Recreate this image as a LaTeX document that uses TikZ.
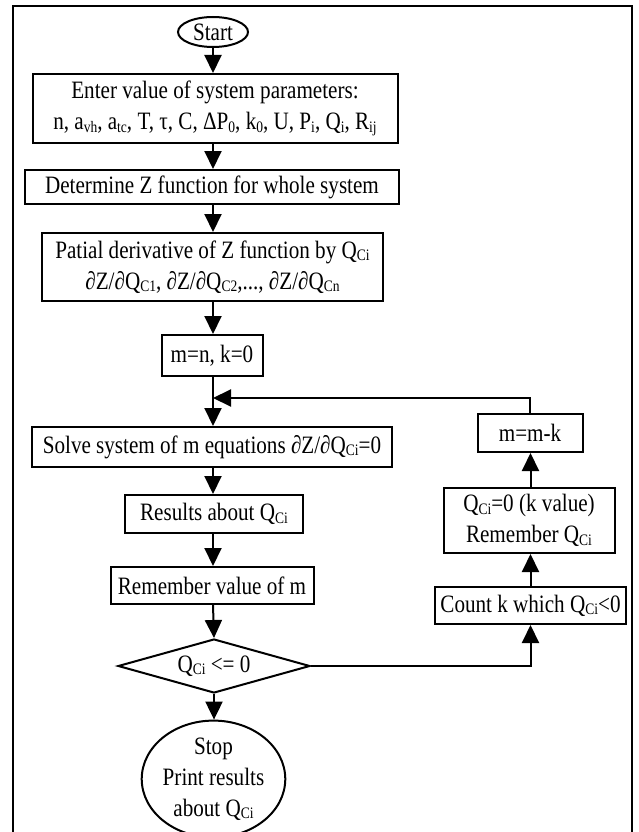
\documentclass[tikz,border=0pt]{standalone}
\usepackage{fontspec}
\setmainfont{Liberation Serif}[FakeStretch=0.845]
\usetikzlibrary{shapes.geometric,arrows.meta}
\newcommand\sbs[1]{\raisebox{-2.5pt}{\fontsize{16}{16}\selectfont #1}}
\begin{document}
\begin{tikzpicture}[x=1pt,y=-1pt,
  font=\fontsize{25}{31}\selectfont,
  box/.style={draw, line width=2pt, rectangle, inner sep=0pt, align=center},
  oval/.style={draw, line width=2pt, ellipse, inner sep=0pt, align=center},
  arr/.style={line width=2pt, -{Triangle[length=18pt,width=17pt]}}]
\useasboundingbox (0,0) rectangle (639,832);
% outer frame
\draw[line width=2pt] (13,845) -- (13,6) -- (632,6) -- (632,845);
% main column
\node[oval, minimum width=70pt, minimum height=30pt] (start) at (213,32) {Start};
\node[box, minimum width=365pt, minimum height=69pt] (enter) at (215,108.5)
  {Enter value of system parameters:\\
   n, a\sbs{vh}, a\sbs{tc}, T, τ, C, ΔP\sbs{0}, k\sbs{0}, U, P\sbs{i}, Q\sbs{i}, R\sbs{ij}};
\node[box, minimum width=374pt, minimum height=34pt] (det) at (212,187)
  {Determine Z function for whole system};
\node[box, minimum width=341pt, minimum height=68pt] (pat) at (212.5,267)
  {Patial derivative of Z function by Q\sbs{Ci}\\
   ∂Z/∂Q\sbs{C1}, ∂Z/∂Q\sbs{C2},..., ∂Z/∂Q\sbs{Cn}};
\node[box, minimum width=101pt, minimum height=41pt] (mn) at (212,355.5) {m=n, k=0};
\coordinate (jn) at (213,398);
\node[box, minimum width=360pt, minimum height=40pt] (solve) at (212,447)
  {Solve system of m equations ∂Z/∂Q\sbs{Ci}=0};
\node[box, minimum width=178pt, minimum height=38pt] (res) at (214,514)
  {Results about Q\sbs{Ci}};
\node[box, minimum width=203pt, minimum height=37pt] (rem) at (212,585.5)
  {Remember value of m};
\node[draw, line width=2pt, diamond, aspect=3.5, inner sep=0pt,
  minimum width=192pt, minimum height=54pt] (dia) at (214,666)
  {Q\sbs{Ci} <= 0};
\node[oval, minimum width=137pt, minimum height=102pt] (stop) at (213.5,779)
  {Stop\\Print results\\about Q\sbs{Ci}};
% right column
\node[box, minimum width=105pt, minimum height=38pt] (mmk) at (530,433) {m=m-k};
\node[box, minimum width=171pt, minimum height=65pt] (q0) at (529,520.5)
  {Q\sbs{Ci}=0 (k value)\\Remember Q\sbs{Ci}};
\node[box, minimum width=191pt, minimum height=37pt] (count) at (530.5,605.5)
  {Count k which Q\sbs{Ci}<0};
% connectors
\draw[arr] (start.south) -- (start.south |- enter.north);
\draw[arr] (start.south |- enter.south) -- (start.south |- det.north);
\draw[arr] (start.south |- det.south) -- (start.south |- pat.north);
\draw[arr] (start.south |- pat.south) -- (start.south |- mn.north);
\draw[arr] (start.south |- mn.south) -- (start.south |- solve.north);
\draw[arr] (mmk.north) |- (jn);
\draw[arr] (start.south |- solve.south) -- (start.south |- res.north);
\draw[arr] (start.south |- res.south) -- (start.south |- rem.north);
\draw[arr] (start.south |- rem.south) -- (dia.north);
\draw[arr] (dia.south) -- (dia.south |- stop.north);
\draw[arr] (dia.east) -| (count.south);
\draw[arr] (count.north) -- (count.north |- q0.south);
\draw[arr] (count.north |- q0.north) -- (count.north |- mmk.south);
\end{tikzpicture}
\end{document}
